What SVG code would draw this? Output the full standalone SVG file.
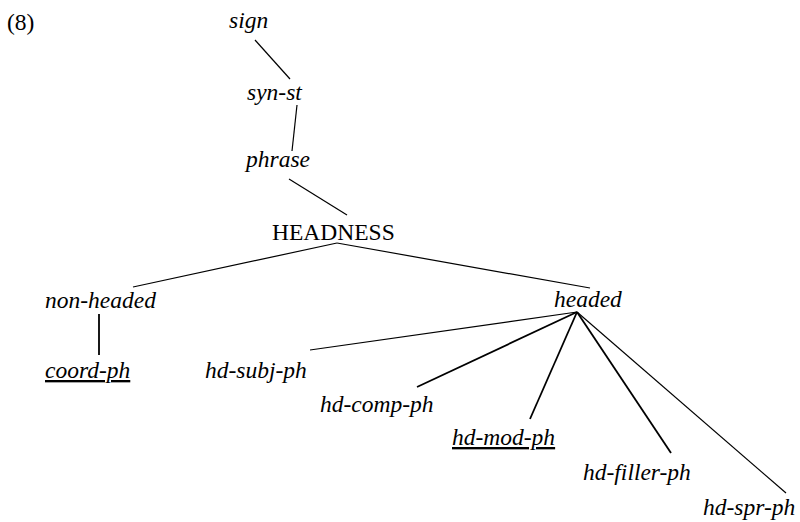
<svg xmlns="http://www.w3.org/2000/svg" width="800" height="522" viewBox="0 0 800 522">
<style>
text{font-size:23.5px;fill:#000}
.i{font-style:italic}
.u{text-decoration:underline}
line{stroke:#000;stroke-width:1.2}
.t{stroke-width:1.8}
</style>
<rect width="800" height="522" fill="#fff"/>
<g id="connectors">
<line x1="255" y1="40" x2="290" y2="79"/>
<line x1="297" y1="105" x2="292" y2="151"/>
<line x1="289" y1="179" x2="347" y2="215"/>
<line x1="337" y1="243" x2="133" y2="287"/>
<line x1="337" y1="243" x2="590" y2="288"/>
<line class="t" x1="99" y1="314" x2="99" y2="355"/>
<line x1="577" y1="312" x2="310" y2="350"/>
<line class="t" x1="577" y1="312" x2="417" y2="387"/>
<line class="t" x1="577" y1="312" x2="530" y2="419"/>
<line class="t" x1="577" y1="312" x2="671" y2="453"/>
<line x1="577" y1="312" x2="786" y2="493"/>
</g>
<g font-family="Liberation Serif, Times New Roman, serif">
<g id="label-8"><text x="7" y="30" font-size="22">(8)</text></g>
<g id="sign"><text class="i" x="229" y="28">sign</text></g>
<g id="syn-st"><text class="i" x="247" y="100">syn-st</text></g>
<g id="phrase"><text class="i" x="246" y="167">phrase</text></g>
<g id="headness"><text x="272" y="240">HEADNESS</text></g>
<g id="non-headed"><text class="i" x="45" y="308">non-headed</text></g>
<g id="headed"><text class="i" x="554" y="307">headed</text></g>
<g id="coord-ph"><text class="i u" x="45" y="378">coord-ph</text></g>
<g id="hd-subj-ph"><text class="i" x="205" y="378">hd-subj-ph</text></g>
<g id="hd-comp-ph"><text class="i" x="320" y="412">hd-comp-ph</text></g>
<g id="hd-mod-ph"><text class="i u" x="452" y="445">hd-mod-ph</text></g>
<g id="hd-filler-ph"><text class="i" x="583" y="480">hd-filler-ph</text></g>
<g id="hd-spr-ph"><text class="i" x="703" y="515">hd-spr-ph</text></g>
</g>
</svg>
